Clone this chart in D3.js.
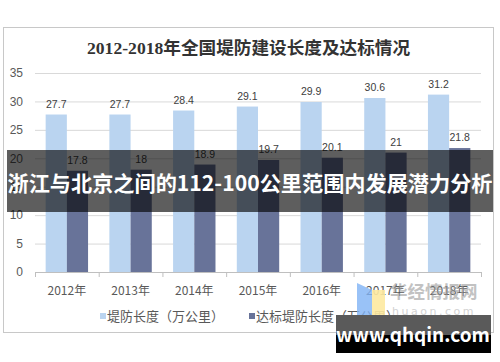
<!DOCTYPE html>
<html><head><meta charset="utf-8">
<script src="https://cdn.jsdelivr.net/npm/d3@7"></script>
<style>html,body{margin:0;padding:0;background:#fff;}svg{display:block;}</style>
</head><body>
<svg id="c" width="500" height="362"></svg>
<script>
const years = ["2012年","2013年","2014年","2015年","2016年","2017年","2018年"];
const total = [27.7, 27.7, 28.4, 29.1, 29.9, 30.6, 31.2];
const standard = [17.8, 18, 18.9, 19.7, 20.1, 21, 21.8];
const yTicks = [0, 5, 10, 15, 20, 25, 30, 35];
const seriesNames = ["堤防长度（万公里）", "达标堤防长度（万公里）"];
const colors = ["#BAD4F0", "#687399"];

const svg = d3.select("#c");
const cjk = "'Noto Sans CJK SC', 'Noto Sans', sans-serif";

// outer border
svg.append("rect").attr("x",3.5).attr("y",27.5).attr("width",490).attr("height",305)
  .attr("fill","#fff").attr("stroke","#c8c8c8").attr("stroke-width",1);

// title
svg.append("text").attr("x",248.5).attr("y",54).attr("text-anchor","middle")
  .attr("font-family","'Liberation Serif', 'Noto Sans CJK SC', serif").attr("font-weight","bold")
  .attr("font-size",17.5).attr("fill","#333")
  .attr("textLength",323).attr("lengthAdjust","spacingAndGlyphs")
  .text("2012-2018年全国堤防建设长度及达标情况");

const x = d3.scaleBand().domain(years).range([35, 481]);
const y = d3.scaleLinear().domain([0, 35]).range([272, 73]);

// gridlines
svg.append("g").selectAll("line").data(yTicks.filter(d=>d>0)).join("line")
  .attr("x1",35).attr("x2",481).attr("y1",d=>y(d)+0.5).attr("y2",d=>y(d)+0.5)
  .attr("stroke","#d9d9d9");

// y axis labels
const yAxis = d3.axisLeft(y).tickValues(yTicks).tickSize(0).tickPadding(12);
const gy = svg.append("g").attr("transform","translate(35,0)").call(yAxis);
gy.select(".domain").remove();
gy.selectAll("text").attr("font-family","'Liberation Sans', Arial, sans-serif").attr("font-size",12).attr("fill","#595959");

const bw = 21.2;
const sub = d3.scaleBand().domain([0,1]).range([0, bw*2]);
const off = (x.bandwidth() - bw*2)/2;

const groups = svg.append("g").selectAll("g").data(years).join("g")
  .attr("transform", d => `translate(${x(d)+off},0)`);
[total, standard].forEach((arr, si) => {
  groups.append("rect")
    .attr("x", sub(si)).attr("width", sub.bandwidth())
    .attr("y", (d,i) => y(arr[i])).attr("height", (d,i) => y(0) - y(arr[i]))
    .attr("fill", colors[si]);
  groups.append("text")
    .attr("x", sub(si) + sub.bandwidth()/2).attr("y", (d,i) => y(arr[i]) - 7)
    .attr("text-anchor","middle").attr("font-family","'Liberation Sans', Arial, sans-serif")
    .attr("font-size",10.5).attr("fill","#404040").text((d,i) => arr[i]);
});

// x axis
const xAxis = d3.axisBottom(x).tickSize(0).tickPadding(14);
const gx = svg.append("g").attr("transform","translate(0,272)").call(xAxis);
gx.select(".domain").attr("stroke","#bfbfbf").attr("d","M35.5,0.5H481.5");
gx.selectAll("text").attr("font-family",cjk).attr("font-size",12).attr("fill","#595959");
svg.append("g").selectAll("line").data(years.concat([null])).join("line")
  .attr("x1",(d,i)=> (i<years.length? x(d): 481)+0.5).attr("x2",(d,i)=> (i<years.length? x(d): 481)+0.5)
  .attr("y1",272).attr("y2",277).attr("stroke","#bfbfbf");

// legend
const legX = [100, 249];
seriesNames.forEach((n, i) => {
  svg.append("rect").attr("x",legX[i]).attr("y",313).attr("width",6).attr("height",6).attr("fill",colors[i]);
  svg.append("text").attr("x",legX[i]+7).attr("y",320.5).attr("font-family",cjk)
    .attr("font-size",13).attr("fill","#595959").text(n);
});

// watermark logo
svg.append("polygon").attr("points","357,283 372,290 372,318 357,318").attr("fill","#7fb3f5").attr("opacity",0.8);
svg.append("polygon").attr("points","372,290 385,290 385,318 372,318").attr("fill","#fde9a0").attr("opacity",0.9);
svg.append("text").attr("x",390).attr("y",298).attr("font-family",cjk).attr("font-weight","bold")
  .attr("font-size",17.5).attr("fill","#9a9a9a").attr("opacity",0.6).text("华经情报网");
svg.append("text").attr("x",392).attr("y",315).attr("font-family","'DejaVu Sans', sans-serif")
  .attr("font-size",11).attr("letter-spacing",2.5).attr("fill","#c8c8c8").attr("opacity",0.8).text("huaon.com");

// banner overlay
svg.append("rect").attr("x",7).attr("y",150).attr("width",486).attr("height",62).attr("fill","rgba(0,0,0,0.63)");
svg.append("text").attr("x",250).attr("y",190.5).attr("text-anchor","middle").attr("font-family",cjk)
  .attr("font-weight","bold").attr("font-size",21).attr("fill","#fff")
  .attr("textLength",485).attr("lengthAdjust","spacingAndGlyphs")
  .text("浙江与北京之间的112-100公里范围内发展潜力分析");

// url box
svg.append("rect").attr("x",336).attr("y",315).attr("width",155).attr("height",20).attr("fill","#5a5a5a");
svg.append("rect").attr("x",336).attr("y",335).attr("width",155).attr("height",18).attr("fill","#000");
svg.append("text").attr("x",413).attr("y",342).attr("text-anchor","middle").attr("font-family",cjk)
  .attr("font-weight","bold").attr("font-size",19).attr("fill","#fff").text("www.qhqin.com");
</script>
</body></html>
